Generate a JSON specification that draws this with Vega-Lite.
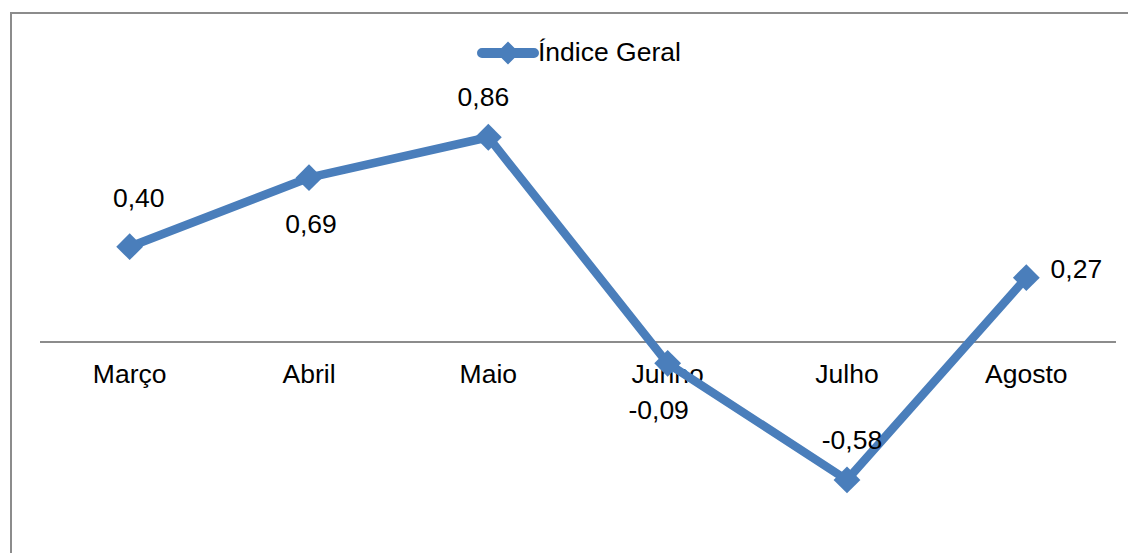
{
  "$schema": "https://vega.github.io/schema/vega-lite/v6.json",
  "width": 1130,
  "height": 545,
  "autosize": {"type": "none"},
  "padding": {"left": 11, "top": 13, "right": 0, "bottom": 0},
  "background": "white",
  "config": {
    "view": {"stroke": "#8c8c8c", "strokeWidth": 2},
    "font": "Liberation Sans",
    "text": {"font": "Liberation Sans", "fontSize": 26.5, "color": "#000000", "baseline": "middle", "align": "center"}
  },
  "datasets": {
    "serie": [
      {"mes": "Março", "valor": 0.40, "rotulo": "0,40"},
      {"mes": "Abril", "valor": 0.69, "rotulo": "0,69"},
      {"mes": "Maio", "valor": 0.86, "rotulo": "0,86"},
      {"mes": "Junho", "valor": -0.09, "rotulo": "-0,09"},
      {"mes": "Julho", "valor": -0.58, "rotulo": "-0,58"},
      {"mes": "Agosto", "valor": 0.27, "rotulo": "0,27"}
    ],
    "eixo": [{"inicio": "Março", "fim": "Agosto", "zero": 0}]
  },
  "data": {"name": "serie"},
  "encoding": {
    "x": {
      "field": "mes", "type": "nominal", "axis": null,
      "scale": {"type": "band", "domain": ["Março", "Abril", "Maio", "Junho", "Julho", "Agosto"], "paddingInner": 0, "paddingOuter": 0.1506, "align": 0.537}
    },
    "y": {
      "field": "valor", "type": "quantitative", "axis": null,
      "scale": {"domain": [-0.908, 1.382], "nice": false, "zero": false}
    }
  },
  "layer": [
    {
      "data": {"name": "eixo"},
      "mark": {"type": "rule", "color": "#8c8c8c", "strokeWidth": 2},
      "encoding": {
        "x": {"field": "inicio", "type": "nominal", "bandPosition": 0},
        "x2": {"field": "fim", "bandPosition": 1},
        "y": {"field": "zero", "type": "quantitative"}
      }
    },
    {
      "mark": {"type": "text", "dy": 33},
      "encoding": {
        "y": {"datum": 0},
        "text": {"field": "mes"}
      }
    },
    {
      "mark": {
        "type": "line", "strokeWidth": 8.5, "strokeJoin": "round",
        "point": {"shape": "diamond", "size": 720, "filled": true, "opacity": 1}
      },
      "encoding": {
        "color": {
          "datum": "Índice Geral",
          "scale": {"range": ["#4a7ebb"]},
          "legend": {
            "title": null,
            "orient": "none",
            "legendX": 466,
            "legendY": 9,
            "padding": 0,
            "labelFont": "Liberation Sans",
            "labelFontSize": 26.5,
            "labelColor": "#000000",
            "labelOffset": -1,
            "symbolType": "M-1,0H1M0,-0.17L0.17,0L0,0.17L-0.17,0Z",
            "symbolSize": 2704,
            "symbolStrokeWidth": 10,
            "symbolStrokeColor": "#4a7ebb",
            "symbolFillColor": "#4a7ebb",
            "encode": {"symbols": {"update": {"strokeCap": {"value": "round"}, "strokeJoin": {"value": "miter"}, "fill": {"value": "#4a7ebb"}, "stroke": {"value": "#4a7ebb"}, "opacity": {"value": 1}}}}
          }
        }
      }
    },
    {
      "transform": [{"filter": "datum.mes === 'Março'"}],
      "mark": {"type": "text", "dx": 9, "dy": -48},
      "encoding": {"text": {"field": "rotulo"}}
    },
    {
      "transform": [{"filter": "datum.mes === 'Abril'"}],
      "mark": {"type": "text", "dx": 2, "dy": 47},
      "encoding": {"text": {"field": "rotulo"}}
    },
    {
      "transform": [{"filter": "datum.mes === 'Maio'"}],
      "mark": {"type": "text", "dx": -5, "dy": -39},
      "encoding": {"text": {"field": "rotulo"}}
    },
    {
      "transform": [{"filter": "datum.mes === 'Junho'"}],
      "mark": {"type": "text", "dx": -9, "dy": 48},
      "encoding": {"text": {"field": "rotulo"}}
    },
    {
      "transform": [{"filter": "datum.mes === 'Julho'"}],
      "mark": {"type": "text", "dx": 5, "dy": -39},
      "encoding": {"text": {"field": "rotulo"}}
    },
    {
      "transform": [{"filter": "datum.mes === 'Agosto'"}],
      "mark": {"type": "text", "dx": 50, "dy": -8},
      "encoding": {"text": {"field": "rotulo"}}
    }
  ]
}
